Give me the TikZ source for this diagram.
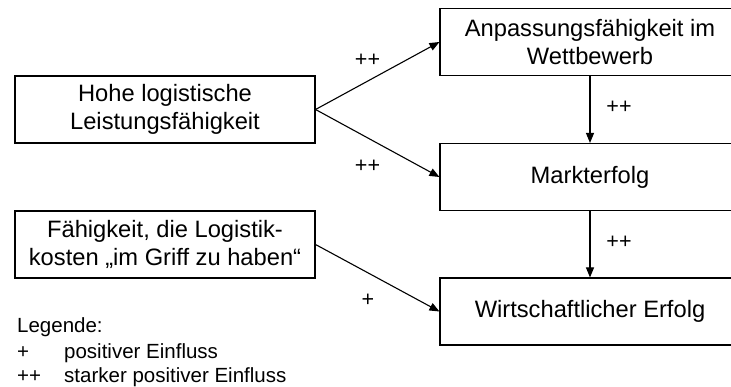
\documentclass[tikz,border=0pt]{standalone}
\usepackage{fontspec}
\setmainfont{Liberation Sans}
\usetikzlibrary{arrows.meta}
\tikzset{
  box/.style={draw=black, line width=1.1pt, minimum width=300pt, minimum height=67pt,
    inner sep=0pt, align=center, font=\fontsize{23.7}{27.5}\selectfont},
  conn/.style={line width=1.1pt, -{Triangle[length=10pt,width=8pt]}},
  lbl/.style={inner sep=0pt, font=\fontsize{21.5}{24}\selectfont},
  leg/.style={inner sep=0pt, anchor=base west, font=\fontsize{20.5}{24}\selectfont},
}
\begin{document}
\begin{tikzpicture}[x=1pt,y=-1pt]
\useasboundingbox (0,0) rectangle (731,387);
\clip (0,0) rectangle (731,387);
\node[box] (A) at (165,109.5) {Hohe logistische\\Leistungsfähigkeit};
\node[box] (B) at (590,42) {Anpassungsfähigkeit im\\Wettbewerb};
\node[box] (C) at (590,177) {Markterfolg};
\node[box] (D) at (165,244.5) {Fähigkeit, die Logistik-\\kosten „im Griff zu haben“};
\node[box] (E) at (590,311.5) {Wirtschaftlicher Erfolg};
\draw[conn] (A.east) -- (B.west);
\draw[conn] (A.east) -- (C.west);
\draw[conn] (B.south) -- (C.north);
\draw[conn] (C.south) -- (E.north);
\draw[conn] (D.east) -- (E.west);
\node[lbl] (l1) at (367.5,60) {++};
\node[lbl] (l2) at (367.5,166) {++};
\node[lbl] (l3) at (619,107) {++};
\node[lbl] (l4) at (619,242) {++};
\node[lbl] (l5) at (368,300) {+};
\node[leg] (g0) at (17,333) {Legende:};
\node[leg] (g1) at (17,358.5) {+};
\node[leg] (g2) at (64,358.5) {positiver Einfluss};
\node[leg] (g3) at (17,382) {++};
\node[leg] (g4) at (64,382) {starker positiver Einfluss};
\end{tikzpicture}
\end{document}
